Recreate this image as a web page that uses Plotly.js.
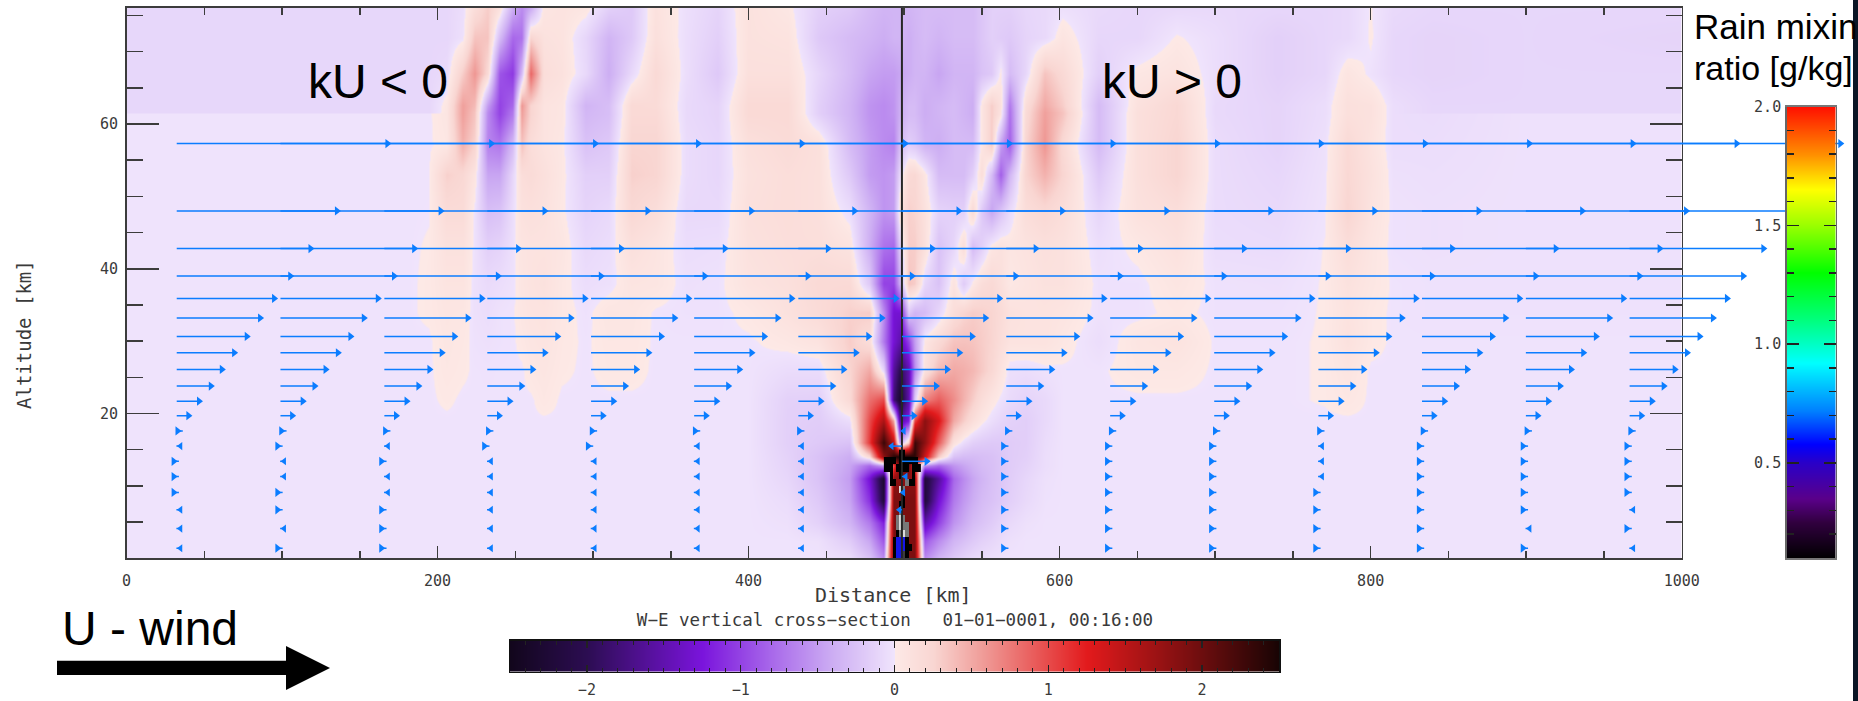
<!DOCTYPE html>
<html>
<head>
<meta charset="utf-8">
<script src="https://cdn.plot.ly/plotly-3.0.1.min.js"></script>
<style>html,body{margin:0;padding:0;background:#fff}#chart{width:1858px;height:701px}</style>
</head>
<body>
<div id="chart"></div>
<script>
// ---------- vertical velocity field, W [m/s] ----------
const fieldDistance = [
  0,180,194,206,216,224,232,240,248,254,
  260,268,280,295,310,325,340,360,380,400,
  425,445,465,478,487,493,497,503,507,513,
  522,532,538,544,550,556,562,568,578,590,602,625,650,
  675,700,740,770,785,800,815,840,900,1000];
const fieldAltitude = [76,72,67,62.6,61.6,61.4,57,53,48,43,38,34,30,26,22,19,16,14,12.8,11,8,5,2.5,0];

const w76 = [-.1,-.1,-.1,-.1,-.05,.15,.3,.1,-.4,-.6, -.4,.05,.08,.04,-.15,-.2,.1,-.04,-.12,.1, .03,-.15,-.2,-.3,-.35,-.35,-.35,-.35,-.33,-.3, -.3,-.3,-.3,-.3,-.22,-.15,-.15,-.15,-.1,-.08,-.03,-.08,-.1, -.08,-.08,-.1,-.1,-.08,.005,-.08,-.1,-.1,-.1];
const w72 = [-.1,-.1,-.1,-.1,-.03,.35,.35,-.3,-.8,-.75, .25,.1,.08,-.1,-.35,-.2,.12,-.05,-.15,.1, .08,-.2,-.3,-.35,-.4,-.35,-.35,-.4,-.35,-.3, -.35,-.3,-.3,-.3,-.22,-.15,-.18,-.2,-.12,-.08,.06,-.1,-.1, .01,-.05,-.15,-.1,-.08,.01,-.1,-.12,-.1,-.12];
const w67 = [-.1,-.1,-.1,-.07,.3,.6,.2,-.9,-1.05,-.3, .85,.15,.1,-.08,-.4,-.08,.2,-.05,-.2,.12, .12,-.1,-.3,-.45,-.5,-.5,-.45,-.4,-.35,-.35, -.45,-.35,-.35,-.35,-.25,-.2,.03,-.3,-.1,.35,.2,-.15,.03, .08,-.05,-.15,-.1,.06,-.02,-.1,-.12,-.1,-.1];
const w626 = [-.1,-.1,-.1,.04,.55,.4,-.5,-1,-.8,.6, .25,.08,.05,-.35,-.28,.2,.18,-.08,-.12,.2, .2,-.15,-.35,-.55,-.6,-.55,-.4,-.3,-.3,-.4, -.35,-.3,-.35,-.4,.05,.3,.1,-.7,.15,.5,.3,-.3,.1, .22,-.08,-.12,-.05,.12,.1,-.05,-.1,-.1,-.1];
const w616 = [-.1,-.1,-.1,.05,.55,.35,-.6,-1,-.7,.55, .25,.08,.05,-.33,-.28,.2,.2,-.08,-.12,.2, .2,-.15,-.35,-.55,-.6,-.55,-.4,-.3,-.3,-.4, -.35,-.3,-.35,-.4,.05,.3,.08,-.75,.18,.55,.35,-.3,.12, .22,-.08,-.12,-.05,.12,.1,-.05,-.1,-.1,-.1];
const w614 = [-.01,-.01,-.01,.05,.55,.35,-.6,-1,-.7,.55, .25,.08,.05,-.33,-.28,.2,.2,-.08,-.12,.2, .2,-.15,-.35,-.55,-.6,-.55,-.4,-.3,-.3,-.4, -.35,-.3,-.35,-.4,.05,.3,.08,-.75,.18,.55,.35,-.3,.12, .22,-.08,-.12,-.05,.12,.1,-.05,-.06,-.02,-.02];
const w57 = [-.01,-.01,-.01,.03,.45,.25,-.65,-.7,-.3,.35, .15,.08,.03,-.25,-.2,.25,.25,-.06,-.1,.12, .18,.12,-.3,-.5,-.6,-.65,-.3,-.15,-.2,-.35, -.4,-.3,-.3,-.3,.05,.3,-.5,-.85,.25,.6,.2,-.3,.12, .25,-.06,-.12,-.03,.2,.08,-.05,-.05,-.02,-.02];
const w53 = [-.01,-.01,-.01,.28,.22,.06,-.45,-.45,-.1,.15, .18,.12,.03,-.15,-.15,.28,.25,-.06,-.1,.1, .15,.12,-.2,-.5,-.55,-.5,-.1,.2,.22,.05, -.3,-.3,-.3,-.15,.15,-.3,-.85,-.35,.25,.45,.25,-.2,.12, .25,-.06,-.1,-.02,.22,.1,-.03,-.04,-.02,-.02];
const w48 = [-.01,-.01,-.005,.18,.18,-.02,-.28,-.25,-.05,.1, .12,.1,.02,-.12,-.08,.22,.15,-.08,-.08,.12, .15,.12,-.05,-.35,-.55,-.5,.1,.28,.25,.1, -.12,-.15,-.15,.2,-.2,-.45,-.25,-.07,.15,.22,.15,-.1,.1, .15,-.06,-.08,-.01,.25,.08,-.02,-.03,-.02,-.02];
const w43 = [-.01,-.01,.005,.1,.1,-.02,-.15,-.12,-.03,.06, .08,.08,.05,-.08,-.05,.12,.06,-.05,-.04,.1, .14,.14,.08,-.4,-.75,-.8,-.2,.3,.3,.12, -.25,-.1,.15,-.3,-.15,.05,.1,.05,.08,.12,.1,-.04,.02, .1,-.05,-.06,.003,.15,.05,-.02,-.03,-.02,-.02];
const w38 = [-.01,-.01,.01,.07,.07,-.03,-.07,-.05,-.02,.05, .08,.1,.03,-.05,-.03,.06,.05,-.03,-.02,.08, .12,.2,.2,-.2,-1,-1,-.4,.35,.3,-.1, -.25,.08,-.18,.02,.15,.2,.12,.02,.06,.1,.1,-.02,-.02, .05,-.02,-.03,.004,.1,.04,-.01,-.02,-.02,-.02];
const w34 = [-.01,-.01,.01,.05,.04,-.03,-.05,-.02,-.01,.04, .07,.08,.03,-.02,.05,.04,-.01,-.02,-.02,.02, .1,.18,.28,.3,-.6,-1.3,-1.3,-.2,-.35,-.3, -.1,.15,.25,.3,.28,.25,.18,.1,.08,.08,.06,-.02,-.02, .02,-.02,-.02,.004,.08,.02,-.01,-.02,-.02,-.02];
const w30 = [-.01,-.01,-.01,.04,.02,-.02,-.03,-.02,-.01,.02, .05,.07,.02,-.01,.03,.03,-.01,-.01,-.01,-.01, .03,.08,.3,.15,-.7,-1.3,-1.5,-1,-.5,.05, .2,.35,.36,.35,.3,.25,.15,.08,.08,.08,.03,-.05,.05, .08,-.01,-.01,.004,.1,.02,-.01,-.01,-.01,-.01];
const w26 = [-.01,-.01,-.01,.03,.01,-.01,-.015,-.01,-.01,-.01, .03,.05,.01,-.01,.02,.02,-.01,-.01,-.01,-.01, -.06,-.06,.25,.5,-.1,-1.6,-2,-1.5,-.6,.1, .4,.5,.47,.42,.32,.22,.08,-.04,-.05,-.02,-.01,-.01,.03, .03,-.01,-.01,.004,.06,-.01,-.01,-.01,-.01,-.01];
const w22 = [-.01,-.01,-.01,.01,-.01,-.01,-.01,-.01,-.01,-.01, -.01,.03,-.01,-.01,-.01,-.01,-.01,-.01,-.01,-.01, -.14,-.15,.2,.8,1,-1.8,-2.3,-1.5,-.2,.7, .9,.65,.45,.3,.15,.05,-.02,-.07,-.12,-.08,-.01,-.01,-.01, -.01,-.01,-.01,.004,.03,-.01,-.01,-.01,-.01,-.01];
const w19 = [-.01,-.01,-.01,-.01,-.01,-.01,-.01,-.01,-.01,-.01, -.01,-.01,-.01,-.01,-.01,-.01,-.01,-.01,-.01,-.01, -.15,-.17,-.05,1,1.6,.5,-1.6,-1.2,1,1.8, 1.3,.5,.3,.15,.03,-.05,-.1,-.14,-.16,-.08,-.01,-.01,-.01, -.01,-.01,-.01,-.01,-.01,-.01,-.01,-.01,-.01,-.01];
const w16 = [-.01,-.01,-.01,-.01,-.01,-.01,-.01,-.01,-.01,-.01, -.01,-.01,-.01,-.01,-.01,-.01,-.01,-.01,-.01,-.01, -.15,-.2,-.25,1.1,2.3,1.5,-.5,.3,2.3,1.8, .9,.1,-.06,-.15,-.18,-.2,-.2,-.18,-.16,-.06,-.01,-.01,-.01, -.01,-.01,-.01,-.01,-.01,-.01,-.01,-.01,-.01,-.01];
const w14 = [-.01,-.01,-.01,-.01,-.01,-.01,-.01,-.01,-.01,-.01, -.01,-.01,-.01,-.01,-.01,-.01,-.01,-.01,-.01,-.01, -.13,-.25,-.4,.2,1.8,2.4,2.5,2.5,2.4,1.4, .3,-.25,-.3,-.3,-.28,-.26,-.22,-.18,-.15,-.05,-.01,-.01,-.01, -.01,-.01,-.01,-.01,-.01,-.01,-.01,-.01,-.01,-.01];
const w128 = [-.01,-.01,-.01,-.01,-.01,-.01,-.01,-.01,-.01,-.01, -.01,-.01,-.01,-.01,-.01,-.01,-.01,-.01,-.01,-.01, -.12,-.25,-.45,-.8,-.5,1,2,2,1,-.6, -.8,-.55,-.45,-.37,-.3,-.27,-.22,-.18,-.13,-.05,-.01,-.01,-.01, -.01,-.01,-.01,-.01,-.01,-.01,-.01,-.01,-.01,-.01];
const w11 = [-.01,-.01,-.01,-.01,-.01,-.01,-.01,-.01,-.01,-.01, -.01,-.01,-.01,-.01,-.01,-.01,-.01,-.01,-.01,-.01, -.1,-.25,-.5,-1.3,-2.3,1.8,1.8,1.8,1.8,-2.2, -1.6,-.8,-.6,-.45,-.35,-.27,-.22,-.17,-.1,-.03,-.01,-.01,-.01, -.01,-.01,-.01,-.01,-.01,-.01,-.01,-.01,-.01,-.01];
const w8 = [-.01,-.01,-.01,-.01,-.01,-.01,-.01,-.01,-.01,-.01, -.01,-.01,-.01,-.01,-.01,-.01,-.01,-.01,-.01,-.01, -.06,-.2,-.45,-1.1,-2.2,1.9,1.9,1.9,1.9,-2.2, -1.3,-.7,-.52,-.4,-.3,-.25,-.2,-.15,-.08,-.02,-.01,-.01,-.01, -.01,-.01,-.01,-.01,-.01,-.01,-.01,-.01,-.01,-.01];
const w5 = [-.01,-.01,-.01,-.01,-.01,-.01,-.01,-.01,-.01,-.01, -.01,-.01,-.01,-.01,-.01,-.01,-.01,-.01,-.01,-.01, -.03,-.14,-.35,-.7,-1.2,1.9,1.9,1.9,1.9,-1.5, -1,-.55,-.42,-.3,-.24,-.18,-.12,-.08,-.03,-.01,-.01,-.01,-.01, -.01,-.01,-.01,-.01,-.01,-.01,-.01,-.01,-.01,-.01];
const w25 = [-.01,-.01,-.01,-.01,-.01,-.01,-.01,-.01,-.01,-.01, -.01,-.01,-.01,-.01,-.01,-.01,-.01,-.01,-.01,-.01, -.01,-.03,-.18,-.45,-.9,1.9,1.9,1.9,1.9,-.9, -.6,-.35,-.27,-.2,-.14,-.1,-.06,-.03,-.01,-.01,-.01,-.01,-.01, -.01,-.01,-.01,-.01,-.01,-.01,-.01,-.01,-.01,-.01];
const w0 = [-.01,-.01,-.01,-.01,-.01,-.01,-.01,-.01,-.01,-.01, -.01,-.01,-.01,-.01,-.01,-.01,-.01,-.01,-.01,-.01, -.01,-.01,-.05,-.25,-.6,1.9,1.9,1.9,1.9,-.6, -.35,-.2,-.13,-.08,-.05,-.03,-.02,-.01,-.01,-.01,-.01,-.01,-.01, -.01,-.01,-.01,-.01,-.01,-.01,-.01,-.01,-.01,-.01];
const fieldRows = [w76,w72,w67,w626,w616,w614,w57,w53,w48,w43,w38,w34,w30,w26,w22,w19,w16,w14,w128,w11,w8,w5,w25,w0];

// W colour table: value, colour
const wScaleValues = [-2.5,-2,-1.25,-.8,-.4,-.001,0,.25,.55,1.25,1.9,2.5];
const wScaleColors = ['#12061c','#2c0d52','#7a14dc','#a868ea','#cdaef3','#f0e4fc','#fde9e6','#f9d6d2','#f0a09c','#e21a1c','#7c0f10','#180404'];

// ---------- rain core: 0 black, 1 grey, 2 pale, 3 blue ----------
const rainDistance = [488,490,492,494,496,498,500,502,504,506,508,510];
const rainAltitude = [14.5,13.5,12.5,11.5,10.5,9.5,8.5,7.5,6.5,5.5,4.5,3.5,2.5,1.5,0.5];
const rainCells = [
 [null,null,null,null,null,0,0,null,null,null,null,null],
 [0,0,0,0,null,0,0,0,0,0,0,null],
 [0,0,0,null,0,0,0,0,null,0,0,0],
 [null,null,0,null,null,0,null,null,null,0,null,null],
 [null,null,0,0,null,null,null,1,0,0,null,null],
 [null,null,null,null,null,2,1,null,null,null,null,null],
 [null,null,null,null,null,null,0,null,null,null,null,null],
 [null,null,null,null,null,0,0,null,null,null,null,null],
 [null,null,null,null,null,1,null,null,null,null,null,null],
 [null,null,null,null,1,2,1,null,null,null,null,null],
 [null,null,null,null,1,2,1,1,null,null,null,null],
 [null,null,null,null,0,1,2,1,null,null,null,null],
 [null,null,null,0,3,3,3,0,null,null,null,null],
 [null,null,null,0,3,3,3,0,0,null,null,null],
 [null,null,null,0,3,3,3,0,null,null,null,null]];

// ---------- wind arrows ----------
const arrowColumns = [32.3,99,165.8,232,298.7,365,432,498.6,565.7,632.5,699.4,766.4,833,899.8,966.5];
const upperAltitude = [57.3,48,42.8,39,35.9,33.2,30.65,28.4,26.1,23.8,21.7,19.7];
const upperLength   = [135.5,103,86,73,62.6,53.6,45,36.9,29,21.9,14.3,7.5];
const lowerAltitude = [17.6,15.5,13.4,11.3,9.1,6.7,4.1,1.4];
const lowerOffsetRight = [0.5,-2,-2,-2,-2,-2,-2,-2];
const lowerOffsetLeft = [2.4,2.4,2.4,2.4,2.4,2.4,2.4,2.4];
const lowerDirection = [
 [1,-1,1,1,1,-1,-1,-1],
 [1,1,-1,-1,1,1,-1,1],
 [1,-1,1,-1,-1,1,1,1],
 [1,1,-1,-1,-1,-1,-1,-1],
 [1,1,-1,-1,-1,-1,-1,-1],
 [1,-1,-1,-1,-1,-1,-1,-1],
 [1,-1,-1,-1,-1,-1,-1,-1],
 [0,0,0,0,0,0,0,0],
 [1,1,1,1,1,1,1,1],
 [1,1,1,1,1,1,1,1],
 [1,1,1,1,1,1,1,1],
 [1,-1,-1,-1,1,1,1,1],
 [1,1,1,1,1,1,1,1],
 [1,1,1,1,1,1,-1,1],
 [1,1,1,1,1,-1,1,-1]];
const centreHeadX = [499.8,492,514.5,501,499.5,497];
const centreHeadDir = [-1,-1,1,-1,-1,-1];
const centreLineX = [498.6];

// ---------- colour bars ----------
const rainLevels = [.1,.2,.3,.4,.5,.6,.7,.8,.9,1,1.1,1.2,1.3,1.4,1.5,1.6,1.7,1.8,1.9,2];
const rainScaleValues = [.1,.25,.35,.5,.58,.72,.92,1.1,1.3,1.5,1.65,1.8,2];
const rainScaleColors = ['#000000','#30003e','#5a008a','#2a00c8','#0000ff','#0080ff','#00ffff','#00ff80','#00ff00','#99ff00','#ffff00','#ff9000','#ff1000'];
const wBarLevels = [-2.5,-2,-1.25,-.8,-.4,-.002,.002,.25,.55,1.25,1.9,2.5];

const xTickValues = [0,200,400,600,800,1000];
const yTickValues = [20,40,60];
const rainTickValues = [.5,1,1.5,2];
const wTickValues = [-2,-1,0,1,2];

// ---------- text ----------
const titleText = 'W\u2212E vertical cross\u2212section\u00a0\u00a0\u00a001\u221201\u22120001, 00:16:00';
const xLabel = 'Distance [km]';
const yLabel = 'Altitude [km]';

// ---------- page geometry ----------
const W = 1858, H = 701;
const px = v => v / W, py = v => 1 - v / H;
const monoFont = '"DejaVu Sans Mono", monospace';
const sansFont = '"Liberation Sans", Arial, sans-serif';
const inkColor = '#3a3a3a', windColor = '#0b7dff';

function makeScale(values, colors) {
  const lo = values[0], hi = values[values.length - 1];
  return values.map((v, i) => [(v - lo) / (hi - lo), colors[i]]);
}
const wScale = makeScale(wScaleValues, wScaleColors);
const rainScale = makeScale(rainScaleValues, rainScaleColors);

// shafts and heads go through the axes
const shaftX = [], shaftY = [], headRX = [], headRY = [], headLX = [], headLY = [], smallRX = [], smallRY = [], smallLX = [], smallLY = [];
arrowColumns.forEach((base, c) => {
  upperAltitude.forEach((alt, k) => {
    shaftX.push(base, base + upperLength[k], null);
    shaftY.push(alt, alt, null);
    headRX.push(base + upperLength[k]);
    headRY.push(alt);
  });
  lowerAltitude.forEach((alt, k) => {
    const d = lowerDirection[c][k];
    if (d > 0) {
      const x = base + lowerOffsetRight[k];
      smallRX.push(x); smallRY.push(alt);
      shaftX.push(x, x + 3.4, null); shaftY.push(alt, alt, null);
    } else if (d < 0) {
      const x = base + lowerOffsetLeft[k];
      smallLX.push(x); smallLY.push(alt);
      shaftX.push(x - 2.6, x, null); shaftY.push(alt, alt, null);
    }
  });
});
centreHeadX.forEach((x, k) => {
  shaftX.push(arrowColumns[7], x, null);
  shaftY.push(lowerAltitude[k], lowerAltitude[k], null);
  (centreHeadDir[k] > 0 ? headRX : smallLX).push(x);
  (centreHeadDir[k] > 0 ? headRY : smallLY).push(lowerAltitude[k]);
});

// The arrows run past x = 1000, so they sit on a wider hidden distance axis of the same scale.
const arrowBase = {type: 'scatter', xaxis: 'x2', yaxis: 'y', hoverinfo: 'skip', showlegend: false};

const traces = [
  {type: 'heatmap', xaxis: 'x', yaxis: 'y', x: fieldDistance, y: fieldAltitude.slice().reverse(), z: fieldRows.slice().reverse(),
   colorscale: wScale, zmin: -2.5, zmax: 2.5, zsmooth: 'best', showscale: false, hoverinfo: 'skip'},
  {type: 'heatmap', xaxis: 'x', yaxis: 'y', x: rainDistance, y: rainAltitude.slice().reverse(), z: rainCells.slice().reverse(),
   colorscale: [[0, '#000000'], [.33, '#777777'], [.67, '#dddddd'], [1, '#1616e8']], zmin: 0, zmax: 3, zsmooth: false, showscale: false, hoverinfo: 'skip'},
  {type: 'scatter', xaxis: 'x', yaxis: 'y', hoverinfo: 'skip', showlegend: false, mode: 'lines', x: [centreLineX[0], centreLineX[0]], y: [0, 76.1], line: {color: '#262626', width: 2}},
  Object.assign({}, arrowBase, {mode: 'lines', x: shaftX, y: shaftY, line: {color: windColor, width: 1.5}, connectgaps: false}),
  Object.assign({}, arrowBase, {mode: 'markers', x: headRX, y: headRY, marker: {symbol: 'triangle-right', size: 8, color: windColor, line: {width: 0}}}),
  Object.assign({}, arrowBase, {mode: 'markers', x: smallRX, y: smallRY, marker: {symbol: 'triangle-right', size: 8, color: windColor, line: {width: 0}}}),
  Object.assign({}, arrowBase, {mode: 'markers', x: smallLX, y: smallLY, marker: {symbol: 'triangle-left', size: 7, color: windColor, line: {width: 0}}}),
  {type: 'heatmap', xaxis: 'x3', yaxis: 'y3', x: [0, 1], y: rainLevels, z: rainLevels.map(v => [v, v]),
   colorscale: rainScale, zmin: .1, zmax: 2, zsmooth: 'best', showscale: false, hoverinfo: 'skip'},
  {type: 'heatmap', xaxis: 'x4', yaxis: 'y4', x: wBarLevels, y: [0, 1], z: [wBarLevels, wBarLevels],
   colorscale: wScale, zmin: -2.5, zmax: 2.5, zsmooth: 'best', showscale: false, hoverinfo: 'skip'}
];

const tickFont = {family: monoFont, size: 15, color: inkColor};
const pxPerKm = (1681.7 - 126.5) / 1000;

const layout = {
  width: W, height: H, autosize: false,
  margin: {l: 0, r: 0, t: 0, b: 0},
  paper_bgcolor: '#ffffff', plot_bgcolor: 'rgba(0,0,0,0)',
  showlegend: false,
  title: {text: titleText, font: {family: monoFont, size: 17.5, color: inkColor}, xref: 'paper', yref: 'paper', x: px(895), y: py(620), xanchor: 'center', yanchor: 'middle'},
  xaxis: {domain: [px(126.5), px(1681.7)], range: [0, 1000], anchor: 'y', showgrid: false, zeroline: false,
    showline: true, linecolor: '#3c3c3c', linewidth: 1.5, mirror: 'ticks',
    tickmode: 'array', tickvals: xTickValues, ticks: 'inside', ticklen: 12, tickwidth: 1.5, tickcolor: '#3c3c3c',
    minor: {tickmode: 'linear', tick0: 0, dtick: 50, ticks: 'inside', ticklen: 7, tickwidth: 1.5, tickcolor: '#3c3c3c', showgrid: false},
    tickfont: tickFont, ticklabelstandoff: 8},
  yaxis: {domain: [py(558.3), py(7.5)], range: [0, 76.1], anchor: 'x', showgrid: false, zeroline: false,
    showline: true, linecolor: '#3c3c3c', linewidth: 1.5, mirror: 'ticks',
    tickmode: 'array', tickvals: yTickValues, ticks: 'inside', ticklen: 32, tickwidth: 1.5, tickcolor: '#3c3c3c',
    minor: {tickmode: 'linear', tick0: 0, dtick: 5, ticks: 'inside', ticklen: 16, tickwidth: 1.5, tickcolor: '#3c3c3c', showgrid: false},
    tickfont: tickFont, ticklabelstandoff: 4},
  xaxis2: {domain: [px(126.5), px(1853)], range: [0, (1853 - 126.5) / pxPerKm], anchor: 'y', visible: false},
  xaxis3: {domain: [px(1786.7), px(1835.7)], range: [0, 1], anchor: 'y3', showgrid: false, zeroline: false, showticklabels: false, ticks: '',
    showline: true, linecolor: '#777777', linewidth: 1.5, mirror: true},
  yaxis3: {domain: [py(558), py(106.5)], range: [.1, 2], anchor: 'x3', showgrid: false, zeroline: false,
    showline: true, linecolor: '#666666', linewidth: 1.5, mirror: 'ticks',
    tickmode: 'array', tickvals: rainTickValues, tickformat: '.1f', ticks: 'inside', ticklen: 12, tickwidth: 1.5, tickcolor: '#222222',
    minor: {tickmode: 'linear', tick0: .1, dtick: .1, ticks: 'inside', ticklen: 7, tickwidth: 1.5, tickcolor: '#222222', showgrid: false},
    tickfont: tickFont, ticklabelstandoff: 1},
  xaxis4: {domain: [px(510), px(1279)], range: [-2.5, 2.5], anchor: 'y4', showgrid: false, zeroline: false,
    showline: true, linecolor: '#111111', linewidth: 1.5, mirror: 'ticks',
    tickmode: 'array', tickvals: wTickValues, ticks: 'inside', ticklen: 7, tickwidth: 1.2, tickcolor: '#222222',
    minor: {tickmode: 'linear', tick0: 0, dtick: .1, ticks: 'inside', ticklen: 4, tickwidth: 1, tickcolor: '#222222', showgrid: false},
    tickfont: tickFont, ticklabelstandoff: 4},
  yaxis4: {domain: [py(671.7), py(640.7)], range: [0, 1], anchor: 'x4', showgrid: false, zeroline: false, showticklabels: false, ticks: '',
    showline: true, linecolor: '#111111', linewidth: 1.5, mirror: true},
  annotations: [
    {xref: 'paper', yref: 'paper', x: px(378), y: py(81), text: 'kU &lt; 0', showarrow: false, xanchor: 'center', yanchor: 'middle', font: {family: sansFont, size: 48, color: '#000'}},
    {xref: 'paper', yref: 'paper', x: px(1172), y: py(81), text: 'kU &gt; 0', showarrow: false, xanchor: 'center', yanchor: 'middle', font: {family: sansFont, size: 48, color: '#000'}},
    {xref: 'paper', yref: 'paper', x: px(1692), y: py(27), text: 'Rain mixing', showarrow: false, xanchor: 'left', yanchor: 'middle', font: {family: sansFont, size: 35, color: '#000'}},
    {xref: 'paper', yref: 'paper', x: px(1692), y: py(68), text: 'ratio [g/kg]', showarrow: false, xanchor: 'left', yanchor: 'middle', font: {family: sansFont, size: 34, color: '#000'}},
    {xref: 'paper', yref: 'paper', x: px(60), y: py(628), text: 'U - wind', showarrow: false, xanchor: 'left', yanchor: 'middle', font: {family: sansFont, size: 48, color: '#000'}},
    {xref: 'paper', yref: 'paper', x: px(893), y: py(595), text: xLabel, showarrow: false, xanchor: 'center', yanchor: 'middle', font: {family: monoFont, size: 20, color: inkColor}},
    {xref: 'paper', yref: 'paper', x: px(24), y: py(335), text: yLabel, textangle: -90, showarrow: false, xanchor: 'center', yanchor: 'middle', font: {family: monoFont, size: 19, color: inkColor}}
  ],
  shapes: [
    {type: 'path', xref: 'paper', yref: 'paper', layer: 'above', line: {width: 0}, fillcolor: '#000000',
     path: `M ${px(57)} ${py(660.7)} L ${px(286)} ${py(660.7)} L ${px(286)} ${py(646)} L ${px(330)} ${py(668)} L ${px(286)} ${py(690)} L ${px(286)} ${py(675)} L ${px(57)} ${py(675)} Z`},
    {type: 'rect', xref: 'paper', yref: 'paper', layer: 'above', line: {width: 0}, fillcolor: '#0a1626',
     x0: px(1853), x1: 1, y0: 0, y1: 1}
  ]
};

Plotly.newPlot('chart', traces, layout, {staticPlot: true, displayModeBar: false});
</script>
</body>
</html>
